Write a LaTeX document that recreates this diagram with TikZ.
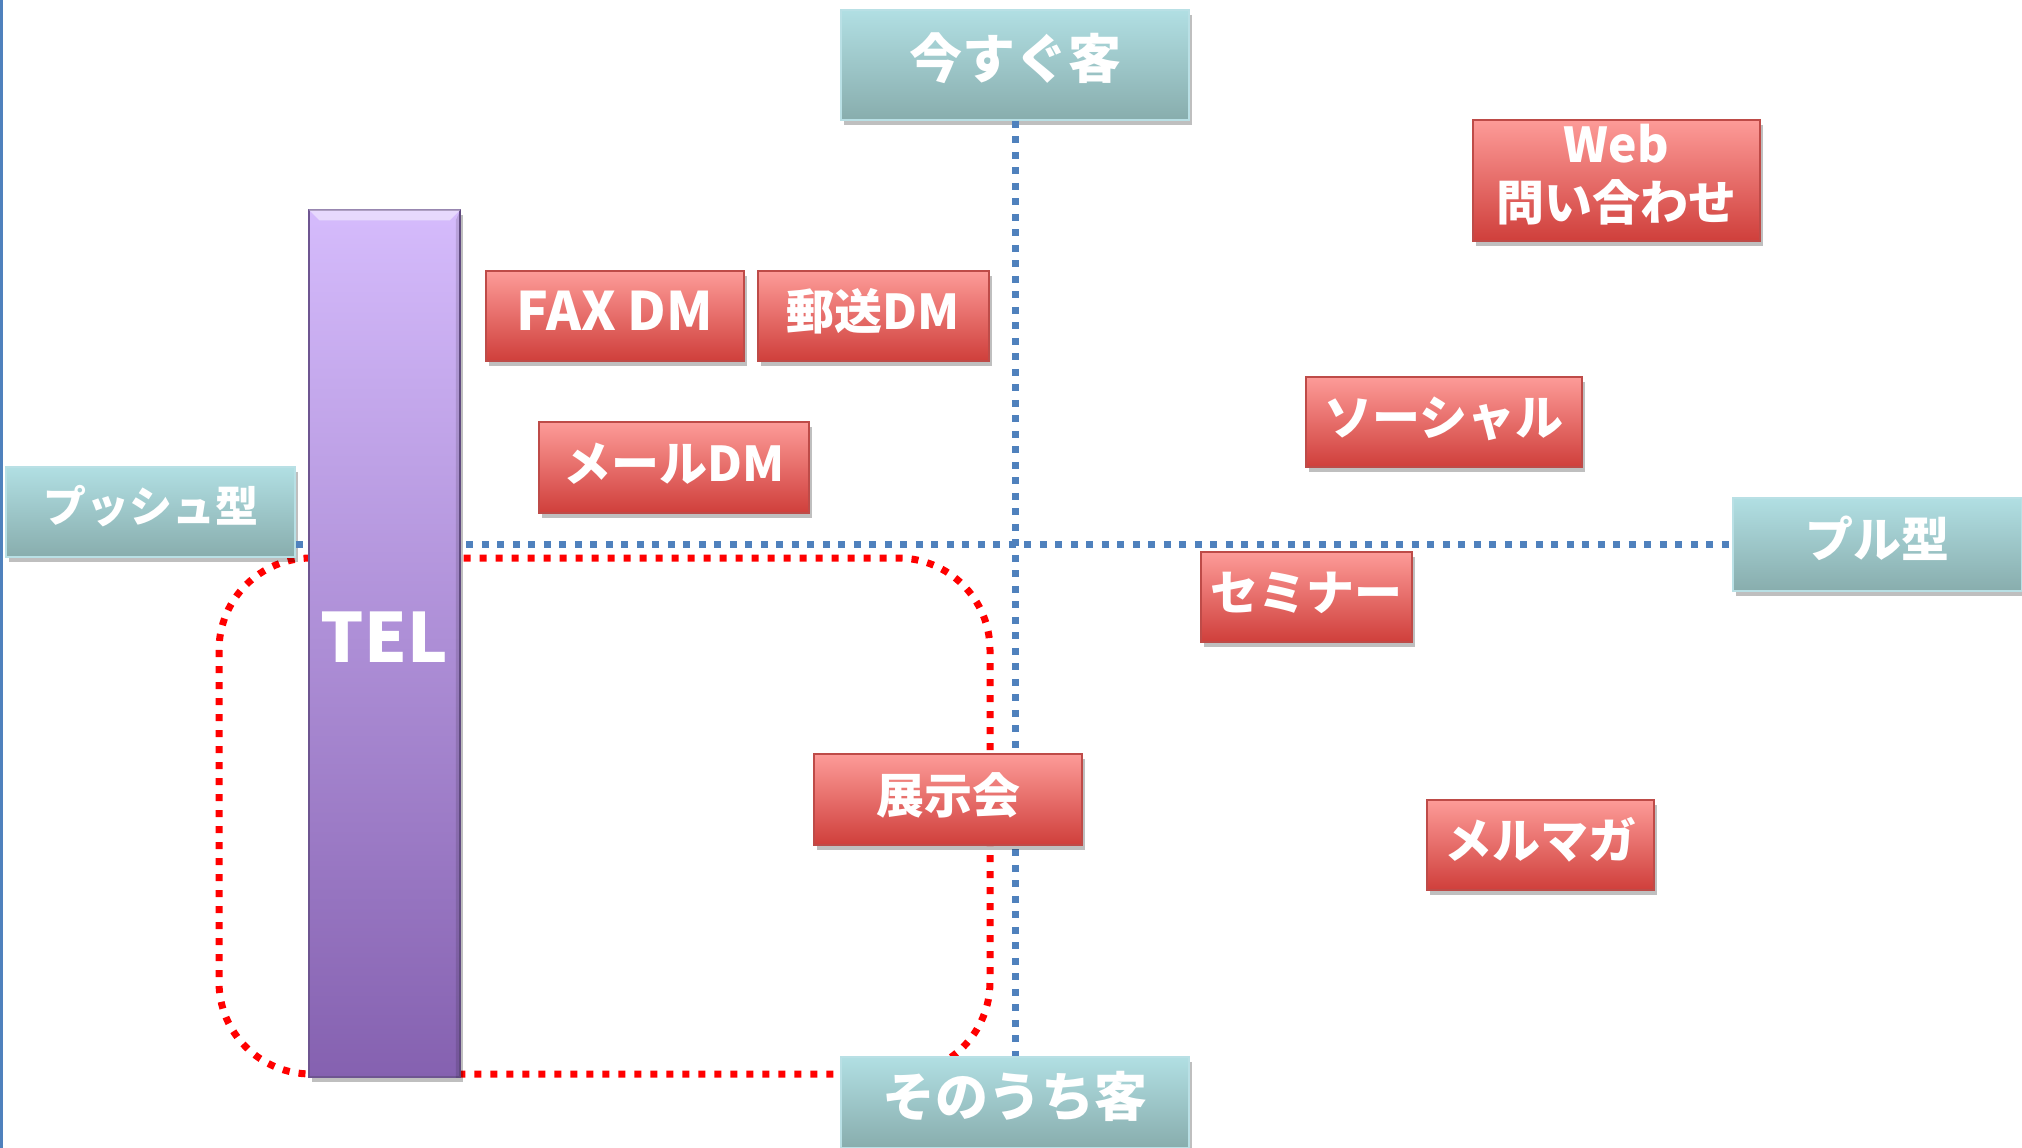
\documentclass[tikz,border=0pt]{standalone}
\usepackage{fontspec}
\setmainfont{Noto Sans CJK JP}
\usetikzlibrary{shadows}
\definecolor{tealtop}{RGB}{177,223,227}
\definecolor{tealbot}{RGB}{136,173,173}
\definecolor{tealedge}{RGB}{185,224,229}
\definecolor{redtop}{RGB}{253,155,152}
\definecolor{redbot}{RGB}{207,63,59}
\definecolor{rededge}{RGB}{190,75,72}
\definecolor{purtop}{RGB}{213,187,252}
\definecolor{purbot}{RGB}{133,97,176}
\definecolor{puredge}{RGB}{110,85,145}
\definecolor{axisblue}{RGB}{79,129,189}
\definecolor{dotred}{RGB}{255,0,0}
\tikzset{
  boxshadow/.style={drop shadow={shadow xshift=3pt,shadow yshift=-5pt,opacity=0.25,fill=black}},
  tealbox/.style={rectangle,inner sep=0pt,top color=tealtop,bottom color=tealbot,draw=tealedge,line width=1.5pt,boxshadow,text=white,font=\bfseries\fontsize{53}{60}\selectfont,text height=38pt,text depth=11pt},
  redbox/.style={rectangle,inner sep=0pt,top color=redtop,bottom color=redbot,draw=rededge,line width=1.5pt,boxshadow,text=white,font=\bfseries\fontsize{48}{54}\selectfont,minimum height=90pt,text height=36pt,text depth=9pt},
  telbar/.style={rectangle,inner sep=0pt,top color=purtop,bottom color=purbot,draw=puredge,line width=1.5pt,boxshadow,text=white,font=\bfseries\fontsize{68}{72}\selectfont,text height=50pt,text depth=13pt},
  bluedot/.style={axisblue,line width=7pt,dash pattern=on 7pt off 8.5pt},
  reddot/.style={dotred,line width=7pt,dash pattern=on 7pt off 9pt}
}
\begin{document}
\begin{tikzpicture}[x=1pt,y=-1pt]
\useasboundingbox (0,0) rectangle (2022,1148);
\fill[white] (0,0) rectangle (2022,1148);
% left slide border
\fill[axisblue] (0,0) rectangle (2.5,1148);
% red dotted rounded region
\draw[reddot,rounded corners=92pt] (219,558) rectangle (990,1074);
% axis nodes
\node[tealbox,minimum width=348pt,minimum height=110pt] (ima) at (1015,65) {今すぐ客};
\node[tealbox,minimum width=348pt,minimum height=91pt] (sono) at (1015,1102.5) {そのうち客};
\node[tealbox,minimum width=289pt,minimum height=90pt,font=\bfseries\fontsize{43}{48}\selectfont,text height=32pt,text depth=11pt] (push) at (150.5,512) {プッシュ型};
\node[tealbox,minimum width=289pt,minimum height=93pt,font=\bfseries\fontsize{48}{54}\selectfont,text height=36pt,text depth=10pt] (pull) at (1877.5,544.5) {プル型};
% axes
\draw[bluedot] (ima.south) -- (sono.north);
\draw[bluedot] (push.east |- pull.west) -- (pull.west);
% TEL bar
\node[telbar,minimum width=151pt,minimum height=867pt] (tel) at (384.5,643.5) {TEL};
\fill[white,opacity=0.45] (tel.north west) -- (tel.north east) -- ([xshift=-11pt,yshift=-11pt]tel.north east) -- ([xshift=11pt,yshift=-11pt]tel.north west) -- cycle;
\fill[black,opacity=0.12] (tel.north east) -- (tel.south east) -- ([xshift=-5pt]tel.south east) -- ([xshift=-5pt,yshift=-11pt]tel.north east) -- cycle;
% channel boxes
\node[redbox,minimum width=258pt,font=\bfseries\fontsize{53}{58}\selectfont,text height=40pt,text depth=11pt] (fax) at (615,316) {FAX DM};
\node[redbox,minimum width=231pt] (yuso) at (873.5,316) {郵送DM};
\node[redbox,minimum width=270pt,minimum height=91pt] (mail) at (674,467.5) {メールDM};
\node[redbox,minimum width=287pt,minimum height=121pt,text height=,text depth=] (web) at (1616.5,180.5) {\begin{tabular}{@{}c@{}}Web\\問い合わせ\end{tabular}};
\node[redbox,minimum width=276pt] (social) at (1444,422) {ソーシャル};
\node[redbox,minimum width=211pt] (seminar) at (1306.5,597) {セミナー};
\node[redbox,minimum width=268pt,minimum height=91pt] (tenji) at (948,799.5) {展示会};
\node[redbox,minimum width=227pt] (merumaga) at (1540.5,845) {メルマガ};
\end{tikzpicture}
\end{document}
